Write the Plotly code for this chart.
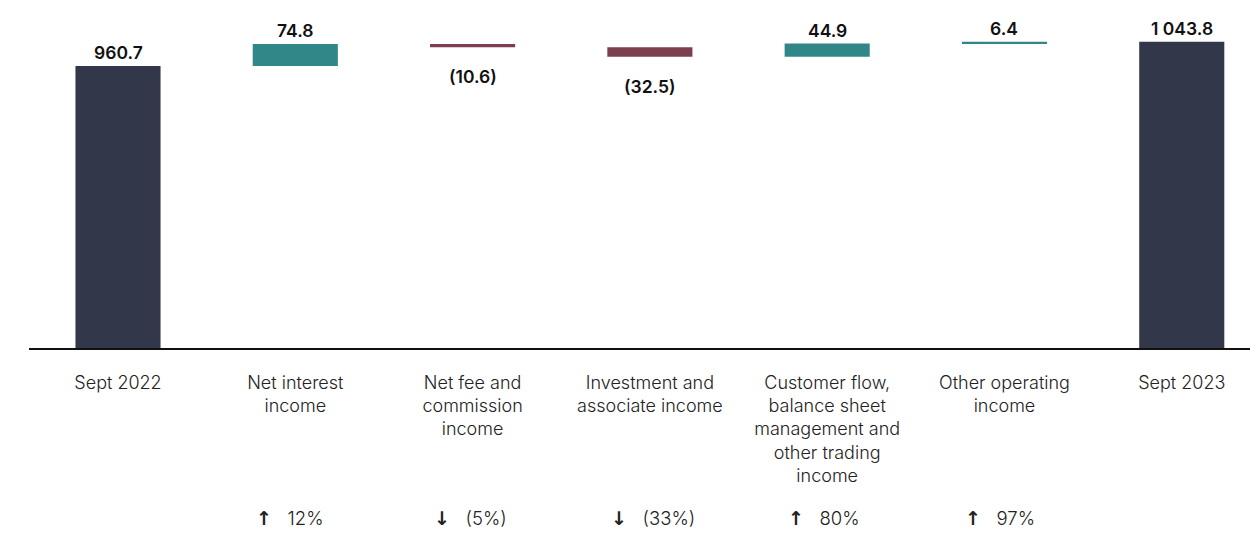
import plotly.graph_objects as go

categories = ["Sept 2022", "Net interest<br>income", "Net fee and<br>commission<br>income",
              "Investment and<br>associate income",
              "Customer flow,<br>balance sheet<br>management and<br>other trading<br>income",
              "Other operating<br>income", "Sept 2023"]
measures = ["absolute", "relative", "relative", "relative", "relative", "relative", "total"]
values = [960.7, 74.8, -10.6, -32.5, 44.9, 6.4, 0]
total_label = 1043.8
pct_change = [None, 12, -5, -33, 80, 97, None]

NAVY = "#323849"
TEAL = "#318787"
MAROON = "#7b3f4f"

def fmt(v):
    s = f"{abs(v):,.1f}".replace(",", " ")
    return f"({s})" if v < 0 else s

fig = go.Figure(go.Waterfall(
    x=list(range(len(categories))),
    measure=measures,
    y=values,
    width=0.48,
    connector=dict(visible=False),
    increasing=dict(marker=dict(color=TEAL)),
    decreasing=dict(marker=dict(color=MAROON)),
    totals=dict(marker=dict(color=NAVY)),
    hoverinfo="x+y",
))

# value labels, placed at the end of each bar
cum = 0.0
for i, (m, v) in enumerate(zip(measures, values)):
    if m == "absolute":
        cum = v
        lab, yv, up = fmt(v), v, True
    elif m == "total":
        lab, yv, up = fmt(total_label), cum, True
    else:
        start = cum
        cum += v
        lab = fmt(v)
        up = v >= 0
        yv = max(start, cum) if up else min(start, cum)
    fig.add_annotation(x=i, y=yv, xref="x", yref="y", text=lab, showarrow=False,
                       yanchor="bottom" if up else "top", yshift=1 if up else -17,
                       font=dict(family="Inter", size=17.5, color="#111111", weight=600))

for i, p in enumerate(pct_change):
    if p is None:
        continue
    arrow = "\u2191" if p > 0 else "\u2193"
    ptxt = f"{p}%" if p > 0 else f"({abs(p)}%)"
    fig.add_annotation(x=i, y=-0.50, xref="x", yref="paper", yanchor="middle",
                       xanchor="left", xshift=-41, align="left",
                       text=f"<span style='font-family:DejaVu Sans;font-size:19px;font-weight:bold'>{arrow}</span>   {ptxt}",
                       showarrow=False,
                       font=dict(family="Inter", size=18.5, color="#222222", weight=300))

fig.update_layout(
    width=1250, height=533,
    margin=dict(l=0, r=0, t=0, b=193),
    paper_bgcolor="white", plot_bgcolor="white",
    showlegend=False,
    xaxis=dict(
        range=[-0.502, 6.43], domain=[21/1250, 1],
        tickmode="array", tickvals=list(range(len(categories))), ticktext=categories,
        showgrid=False, zeroline=False, showline=True, linecolor="#111111", linewidth=2,
        ticks="", ticklabelstandoff=17,
        tickfont=dict(family="Inter", size=18, color="#222222", weight=300),
    ),
    yaxis=dict(range=[0, 1158.4], visible=False, showgrid=False, zeroline=False),
)

fig.write_html("out.html")
